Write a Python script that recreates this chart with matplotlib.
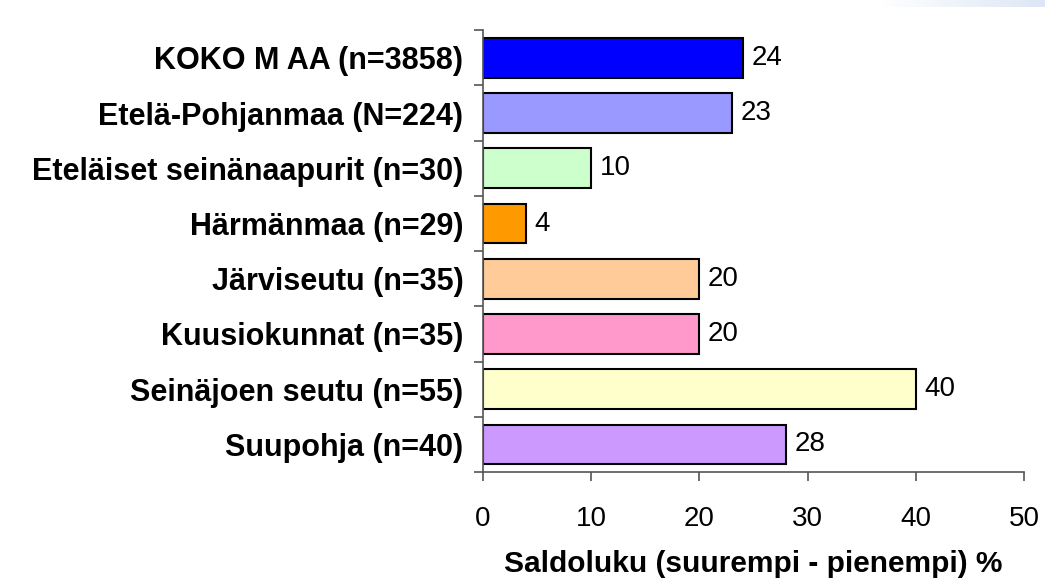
import numpy as np
import matplotlib
matplotlib.use('Agg')
import matplotlib.pyplot as plt

# Data
categories = [
    'KOKO M AA (n=3858)',
    'Etelä-Pohjanmaa (N=224)',
    'Eteläiset seinänaapurit (n=30)',
    'Härmänmaa (n=29)',
    'Järviseutu (n=35)',
    'Kuusiokunnat (n=35)',
    'Seinäjoen seutu (n=55)',
    'Suupohja (n=40)',
]
values = [24, 23, 10, 4, 20, 20, 40, 28]
colors = ['#0000FF', '#9999FF', '#CCFFCC', '#FF9900',
          '#FFCC99', '#FF99CC', '#FFFFCC', '#CC99FF']
xticks = [0, 10, 20, 30, 40, 50]
xlabel = 'Saldoluku (suurempi - pienempi) %'

plt.rcParams['font.family'] = ['Liberation Sans', 'DejaVu Sans']

fig = plt.figure(figsize=(10.45, 5.82), dpi=100)

# faint gradient strip in the top right corner
bg = fig.add_axes([0.84, 0.988, 0.16, 0.012])
grad = np.linspace(0, 1, 256).reshape(1, -1)
bg.imshow(grad, aspect='auto', cmap=matplotlib.colors.LinearSegmentedColormap.from_list(
    'g', ['#FFFFFF', '#DCE6F5']))
bg.axis('off')

ax = fig.add_axes([0.462, 0.189, 0.518, 0.759])
y = np.arange(len(categories))
ax.barh(y, values, height=0.72, color=colors, edgecolor='black', linewidth=1.5)

for yi, v in zip(y, values):
    ax.text(v + 0.8, yi, str(v), va='center', ha='left', fontsize=20)

ax.set_xlim(0, 50)
ax.set_ylim(len(categories) - 0.5, -0.5)
ax.set_xticks(xticks)
ax.set_xticklabels([str(t) for t in xticks], fontsize=20)
ax.tick_params(axis='x', direction='out', length=6.5, width=1.2, color='#555555', pad=18)

# category labels centered on bars, ticks at category boundaries
ax.set_yticks(y)
ax.set_yticklabels(categories, fontsize=22, fontweight='bold')
ax.tick_params(axis='y', length=0, pad=14)
ax.set_yticks(np.arange(-0.5, len(categories), 1), minor=True)
ax.tick_params(axis='y', which='minor', direction='out', length=6.5, width=1.2, color='#555555')

for s in ['top', 'right']:
    ax.spines[s].set_visible(False)
for s in ['left', 'bottom']:
    ax.spines[s].set_color('#555555')
    ax.spines[s].set_linewidth(1.2)

ax.set_xlabel(xlabel, fontsize=21.5, fontweight='bold', labelpad=13)

fig.savefig('out.png', dpi=100)
